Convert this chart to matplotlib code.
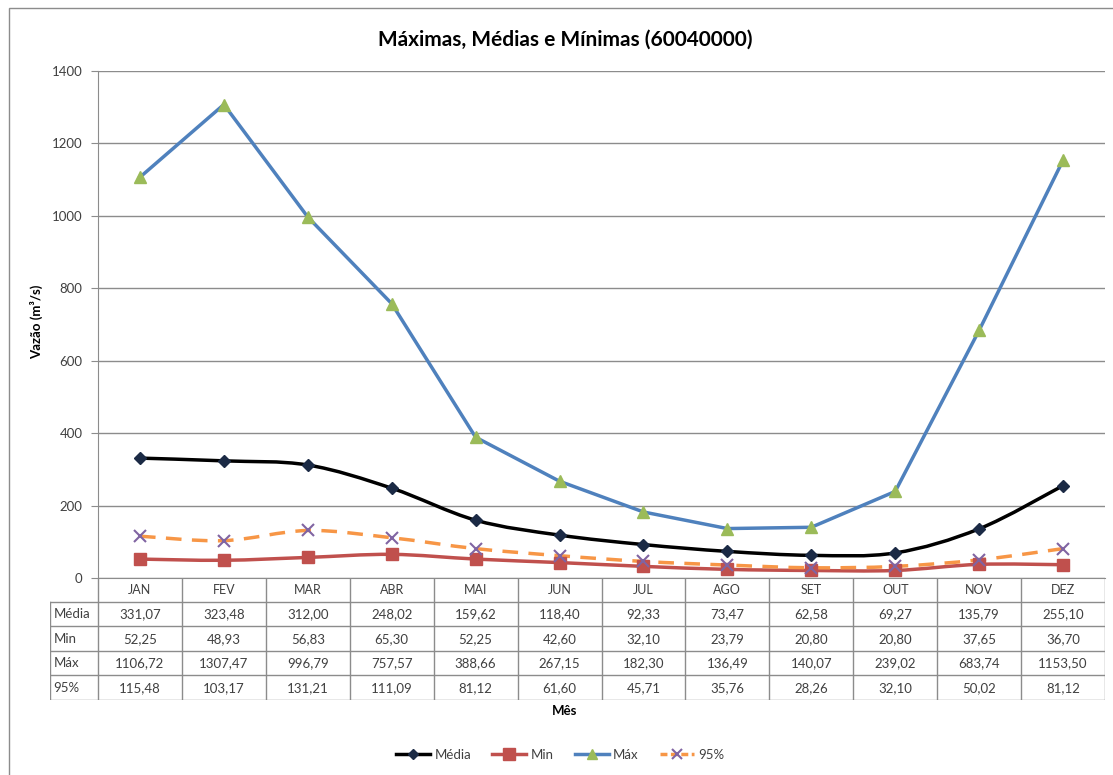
import numpy as np
import matplotlib
matplotlib.use("Agg")
import matplotlib.pyplot as plt
from matplotlib.path import Path
from matplotlib.patches import PathPatch, Rectangle
from matplotlib.lines import Line2D

plt.rcParams['font.family'] = ['Lato', 'DejaVu Sans']

meses = ['JAN', 'FEV', 'MAR', 'ABR', 'MAI', 'JUN', 'JUL', 'AGO', 'SET', 'OUT', 'NOV', 'DEZ']
media = [331.07, 323.48, 312.00, 248.02, 159.62, 118.40, 92.33, 73.47, 62.58, 69.27, 135.79, 255.10]
minimo = [52.25, 48.93, 56.83, 65.30, 52.25, 42.60, 32.10, 23.79, 20.80, 20.80, 37.65, 36.70]
maximo = [1106.72, 1307.47, 996.79, 757.57, 388.66, 267.15, 182.30, 136.49, 140.07, 239.02, 683.74, 1153.50]
p95 = [115.48, 103.17, 131.21, 111.09, 81.12, 61.60, 45.71, 35.76, 28.26, 32.10, 50.02, 81.12]
nomes = ['Média', 'Min', 'Máx', '95%']
yticks = [0, 200, 400, 600, 800, 1000, 1200, 1400]

W, H = 1113, 775


def smooth_path(x, y):
    # curva suavizada (bezier tipo catmull-rom), como a linha suave do excel
    pts = np.column_stack([x, y])
    verts = [pts[0]]
    codes = [Path.MOVETO]
    n = len(pts)
    for i in range(n - 1):
        p0 = pts[i - 1] if i > 0 else pts[i]
        p1 = pts[i]
        p2 = pts[i + 1]
        p3 = pts[i + 2] if i + 2 < n else pts[i + 1]
        c1 = p1 + (p2 - p0) / 6.0
        c2 = p2 - (p3 - p1) / 6.0
        verts += [c1, c2, p2]
        codes += [Path.CURVE4] * 3
    return Path(verts, codes)


def fx(px):
    return px / W


def fy(py):
    return 1 - py / H


fig = plt.figure(figsize=(W / 100, H / 100), dpi=100)

# moldura externa (lados direito e inferior ficam fora da imagem)
fig.patches.append(Rectangle((fx(9), fy(790)), fx(1120), 782 / H, transform=fig.transFigure,
                             fill=False, edgecolor='#8c8c8c', linewidth=1.0))

left, right, top, bottom = 98, 1105, 71, 578
ax = fig.add_axes([fx(left), fy(bottom), fx(right - left), (bottom - top) / H])

x = np.arange(len(meses)) + 0.5
ax.set_xlim(0, len(meses))
ax.set_ylim(0, 1400)
ax.set_yticks(yticks)
ax.set_yticklabels([str(v) for v in yticks], fontsize=9.5, color='#404040')
ax.set_xticks([])
ax.grid(axis='y', color='#8c8c8c', linewidth=1.0)
ax.set_axisbelow(True)
for s in ['top', 'right']:
    ax.spines[s].set_visible(False)
ax.spines['left'].set_color('#8c8c8c')
ax.spines['bottom'].set_color('#8c8c8c')
ax.tick_params(axis='y', length=5, color='#8c8c8c', pad=6)

# Média
ax.add_patch(PathPatch(smooth_path(x, media), fill=False, edgecolor='black', linewidth=2.5, zorder=3))
ax.plot(x, media, linestyle='none', marker='D', markersize=6, color='#1b2a45', zorder=4)
# Min
ax.add_patch(PathPatch(smooth_path(x, minimo), fill=False, edgecolor='#c0504d', linewidth=2.5, zorder=3))
ax.plot(x, minimo, linestyle='none', marker='s', markersize=9, color='#c0504d', zorder=4)
# Máx
ax.plot(x, maximo, color='#4f81bd', linewidth=2.5, zorder=3)
ax.plot(x, maximo, linestyle='none', marker='^', markersize=8, color='#9bbb59', zorder=4)
# 95%
ax.add_patch(PathPatch(smooth_path(x, p95), fill=False, edgecolor='#f79646', linewidth=2.5,
                       linestyle=(0, (4.5, 3)), zorder=3))
ax.plot(x, p95, linestyle='none', marker='x', markersize=8, markeredgewidth=1.5, color='#8064a2', zorder=4)

# tabela de dados abaixo do grafico
tleft, tbottom = 50, 700
col_w = (right - left) / len(meses)
tb = fig.add_axes([fx(tleft), fy(tbottom), fx(right - tleft), (tbottom - bottom) / H])
tb.set_xlim(-(left - tleft) / col_w, len(meses))
tb.set_ylim(tbottom, bottom)
tb.axis('off')
lc = '#8c8c8c'
row_h = (tbottom - 602) / 4
rows_y = [602 + i * row_h for i in range(5)]
x0 = -(left - tleft) / col_w
for yy in rows_y:
    tb.plot([x0, len(meses)], [yy, yy], color=lc, linewidth=1.0)
tb.plot([x0, x0], [rows_y[0], rows_y[-1]], color=lc, linewidth=1.0)
for j in range(len(meses) + 1):
    tb.plot([j, j], [bottom, tbottom], color=lc, linewidth=1.0)
for j, m in enumerate(meses):
    tb.text(j + 0.5, (bottom + rows_y[0]) / 2, m, ha='center', va='center', fontsize=9, color='#404040')
serie_vals = [media, minimo, maximo, p95]
for i, (nome, vals) in enumerate(zip(nomes, serie_vals)):
    yc = rows_y[i] + row_h / 2
    tb.text(x0 + 0.04, yc, nome, ha='left', va='center', fontsize=9.5, color='#404040')
    for j, v in enumerate(vals):
        tb.text(j + 0.5, yc, f'{v:.2f}'.replace('.', ','), ha='center', va='center',
                fontsize=9.5, color='#404040')

fig.text(fx(565), fy(40), 'Máximas, Médias e Mínimas (60040000)', ha='center', va='center',
         fontsize=15, fontweight='bold', color='black')
fig.text(fx(37), fy(322), 'Vazão (m³/s)', ha='center', va='center', rotation=90,
         fontsize=9.5, fontweight='bold', color='black')
fig.text(fx(565), fy(711), 'Mês', ha='center', va='center', fontsize=9.5, fontweight='bold', color='black')

handles = [
    Line2D([], [], color='black', linewidth=2.5, marker='D', markersize=5, markerfacecolor='#1b2a45',
           markeredgecolor='#1b2a45'),
    Line2D([], [], color='#c0504d', linewidth=2.5, marker='s', markersize=8),
    Line2D([], [], color='#4f81bd', linewidth=2.5, marker='^', markersize=7, markerfacecolor='#9bbb59',
           markeredgecolor='#9bbb59'),
    Line2D([], [], color='#f79646', linewidth=2.5, linestyle=(0, (2, 1)), marker='x', markersize=7,
           markeredgecolor='#8064a2', markeredgewidth=1.5),
]
fig.legend(handles, nomes, loc='center', bbox_to_anchor=(fx(560), fy(755)), ncol=4, frameon=False,
           fontsize=9.5, handlelength=2.6, handletextpad=0.3, columnspacing=1.6, labelcolor='#404040')

fig.savefig('out.png', dpi=100)
